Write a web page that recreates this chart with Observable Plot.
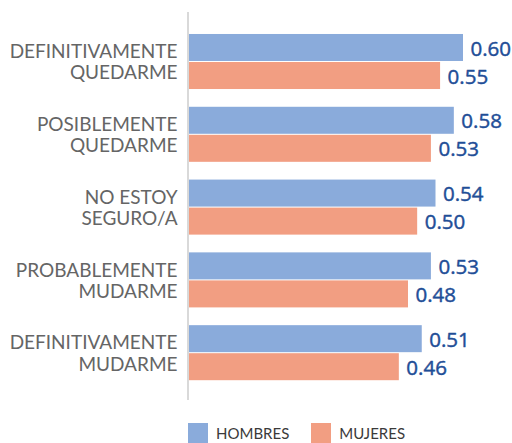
<!DOCTYPE html>
<html>
<head>
<meta charset="utf-8">
<script src="https://cdn.jsdelivr.net/npm/d3@7"></script>
<script src="https://cdn.jsdelivr.net/npm/@observablehq/plot@0.6"></script>
<style>
  html, body { margin: 0; padding: 0; background: #fff; }
  #chart { width: 512px; }
  .legend { display: flex; align-items: center; margin-left: 188px; margin-top: 13px;
            font-family: Lato, "Open Sans", sans-serif; font-size: 15px; color: #3a3a3a; }
  .legend .item { display: flex; align-items: center; margin-right: 22px; }
  .legend .sw { width: 20px; height: 20px; margin-right: 8px; }
</style>
</head>
<body>
<div id="chart"></div>
<script>
const categories = [
  "DEFINITIVAMENTE\nQUEDARME",
  "POSIBLEMENTE\nQUEDARME",
  "NO ESTOY\nSEGURO/A",
  "PROBABLEMENTE\nMUDARME",
  "DEFINITIVAMENTE\nMUDARME"
];
const series = ["HOMBRES", "MUJERES"];
const hombres = [0.60, 0.58, 0.54, 0.53, 0.51];
const mujeres = [0.55, 0.53, 0.50, 0.48, 0.46];
const colors = ["#8AABDB", "#F29E82"];

// layout (in units of one category step)
const thick = 0.371, gap = 0.014, pad = 0.302, total = 5.33;

const rows = [];
categories.forEach((c, i) => {
  [hombres, mujeres].forEach((vals, j) => {
    const y1 = pad + i + j * (thick + gap);
    rows.push({category: c, serie: series[j], value: vals[i], y1, y2: y1 + thick, ym: y1 + thick / 2});
  });
});
const groups = categories.map((c, i) => ({category: c, ym: pad + i + thick + gap / 2}));

const plot = Plot.plot({
  width: 512,
  height: 410,
  marginLeft: 188,
  marginRight: 49,
  marginTop: 12,
  marginBottom: 10,
  x: {domain: [0, 0.6], axis: null},
  y: {domain: [0, total], reverse: true, axis: null},
  color: {domain: series, range: colors},
  style: {background: "white"},
  marks: [
    Plot.rectX(rows, {x1: 0, x2: "value", y1: "y1", y2: "y2", fill: "serie"}),
    Plot.ruleX([0], {y1: 0, y2: total, stroke: "#d9d9d9", strokeWidth: 2, dx: -0.5}),
    Plot.text(rows, {x: "value", y: "ym", text: d => d3.format(".2f")(d.value), dx: 7, dy: 1,
      textAnchor: "start", fill: "#1F4E97", stroke: "#1F4E97", strokeWidth: 0.45,
      fontSize: 20.5, fontWeight: 400, fontFamily: "'Open Sans', sans-serif"}),
    Plot.text(groups, {x: 0, y: "ym", text: "category", dx: -11, textAnchor: "end",
      fill: "#656565", fontSize: 19, fontWeight: 400, lineHeight: 1.12,
      fontFamily: "Lato, sans-serif", style: "letter-spacing: 1.4px"})
  ]
});
document.getElementById("chart").appendChild(plot);

const legend = document.createElement("div");
legend.className = "legend";
series.forEach((s, j) => {
  const item = document.createElement("div");
  item.className = "item";
  const sw = document.createElement("span");
  sw.className = "sw";
  sw.style.background = colors[j];
  const t = document.createElement("span");
  t.textContent = s;
  item.appendChild(sw);
  item.appendChild(t);
  legend.appendChild(item);
});
document.getElementById("chart").appendChild(legend);
</script>
</body>
</html>
